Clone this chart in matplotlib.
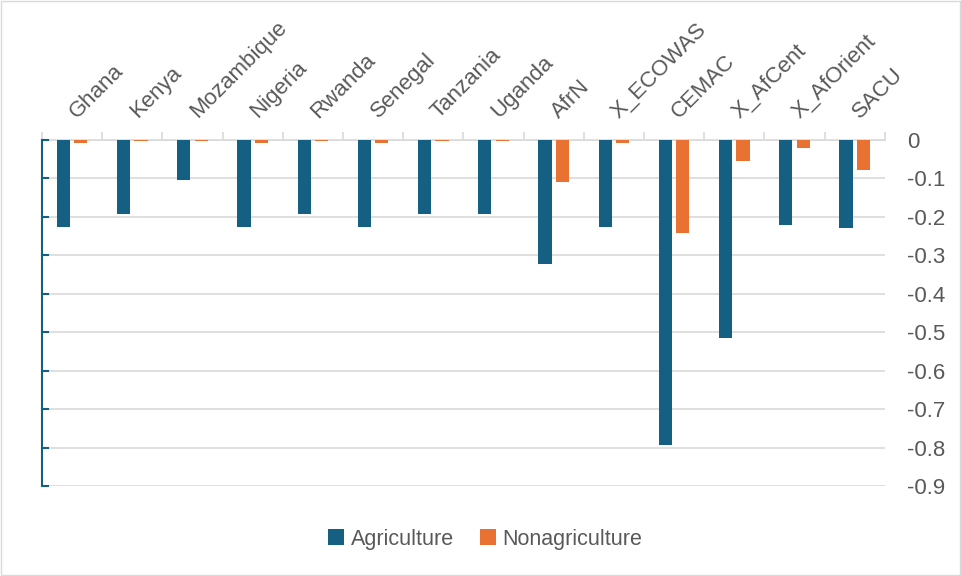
import matplotlib
matplotlib.use('Agg')

import matplotlib.pyplot as plt
import numpy as np

# categories and the two series (change, hanging down from zero)
regions = ['Ghana', 'Kenya', 'Mozambique', 'Nigeria', 'Rwanda', 'Senegal',
           'Tanzania', 'Uganda', 'AfrN', 'X_ECOWAS', 'CEMAC', 'X_AfCent',
           'X_AfOrient', 'SACU']
agriculture = [-0.225, -0.193, -0.104, -0.225, -0.193, -0.225, -0.193,
               -0.193, -0.323, -0.225, -0.792, -0.516, -0.221, -0.229]
nonagriculture = [-0.009, -0.003, -0.002, -0.009, -0.002, -0.008, -0.002,
                  -0.002, -0.109, -0.007, -0.242, -0.055, -0.020, -0.078]
yticks = [0, -0.1, -0.2, -0.3, -0.4, -0.5, -0.6, -0.7, -0.8, -0.9]

blue = '#156082'
orange = '#E97132'
grid = '#D9D9D9'
txt = '#595959'

plt.rcParams['font.family'] = ['Liberation Sans', 'DejaVu Sans']

fig = plt.figure(figsize=(9.61, 5.76), dpi=100)
ax = fig.add_axes([0.0437, 0.156, 0.877, 0.601])

x = np.arange(len(regions))
w = 0.22
ax.bar(x - 0.145, agriculture, w, color=blue, label='Agriculture', zorder=3)
ax.bar(x + 0.145, nonagriculture, w, color=orange, label='Nonagriculture', zorder=3)

ax.set_xlim(-0.5, len(regions) - 0.5)
ax.set_ylim(-0.9, 0)

# value axis on the right, gridlines across
ax.yaxis.tick_right()
ax.set_yticks(yticks)
ax.set_yticklabels(['0' if v == 0 else '{0:g}'.format(v) for v in yticks])
ax.tick_params(axis='y', length=0, pad=16, labelsize=16, labelcolor=txt)
ax.grid(axis='y', color=grid, linewidth=1.2, zorder=0)

# category axis sits at zero, ticks between categories
ax.set_xticks(np.arange(len(regions) + 1) - 0.5)
ax.set_xticklabels([])
ax.xaxis.tick_top()
ax.tick_params(axis='x', length=6, color=grid, width=1.2)
for i, name in enumerate(regions):
    ax.text(i + 0.14, 0.046, name, rotation=45, rotation_mode='anchor',
            ha='left', va='bottom', fontsize=16, color=txt, clip_on=False)

for s in ['right', 'bottom']:
    ax.spines[s].set_visible(False)
ax.spines['top'].set_color(grid)
ax.spines['top'].set_linewidth(1.2)
ax.spines['left'].set_color(blue)
ax.spines['left'].set_linewidth(1.5)

# inward tick marks on the left line
for v in yticks:
    ax.plot([-0.5, -0.5 + 0.1], [v, v], color=blue, linewidth=1.5,
            clip_on=False, zorder=4)

leg = fig.legend(loc='lower center', bbox_to_anchor=(0.505, 0.012), ncol=2,
                 frameon=False, fontsize=15.5, handlelength=0.75,
                 handleheight=0.75, columnspacing=1.2, handletextpad=0.3)
for t in leg.get_texts():
    t.set_color(txt)

fig.patches.append(plt.Rectangle((0.001, 0.001), 0.998, 0.997,
                                 transform=fig.transFigure, fill=False,
                                 edgecolor='#D9D9D9', linewidth=1))

plt.savefig('out.png', dpi=100)
